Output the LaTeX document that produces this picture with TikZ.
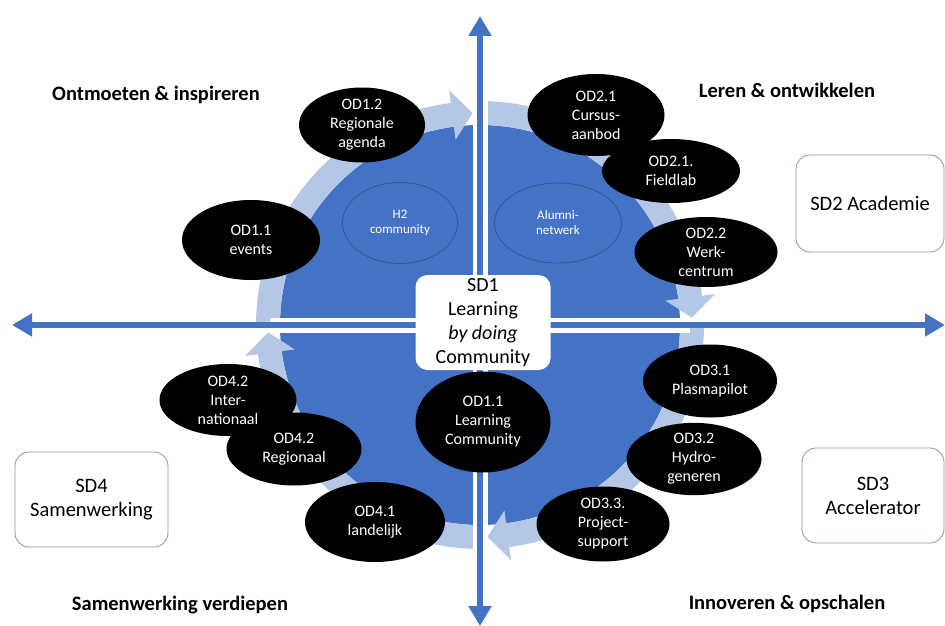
\documentclass[tikz,border=0pt]{standalone}
\usepackage{fontspec}
\setmainfont{Carlito}
\usetikzlibrary{shapes.geometric,arrows.meta}
\definecolor{mainblue}{HTML}{4472C4}
\definecolor{bandblue}{HTML}{B4C7E7}
\definecolor{boxline}{HTML}{8497B0}
\definecolor{ringline}{HTML}{2F528F}
\begin{document}
\begin{tikzpicture}[x=1pt,y=-1pt,
  od/.style={ellipse, fill=black, text=white, inner sep=0pt, align=center,
    font=\fontsize{16}{19}\selectfont},
  innerell/.style={ellipse, draw=ringline, line width=0.7pt, text=white, align=center,
    inner sep=0pt, font=\fontsize{13}{15}\selectfont},
  sdbox/.style={draw=boxline, line width=0.8pt, fill=white, rounded corners=14pt,
    align=center, inner sep=0pt, font=\fontsize{20.5}{24}\selectfont},
  centerbox/.style={fill=white, rounded corners=12pt, align=center, inner sep=0pt,
    font=\fontsize{20}{24}\selectfont},
  quadtitle/.style={font=\bfseries\fontsize{20.5}{24}\selectfont, inner sep=0pt},
  band/.style={fill=bandblue},
  axisborder/.style={draw=white, line width=15pt},
  axisline/.style={draw=mainblue, line width=6pt,
    {Triangle[length=20pt,width=22pt]}-{Triangle[length=20pt,width=22pt]}}
]
\useasboundingbox (0,0) rectangle (945,626);
\fill[white] (0,0) rectangle (945,626);

% central disc
\coordinate (C) at (480,325);
\fill[mainblue] (C) circle[radius=200];

% circular light-blue arrows (clockwise, one per quadrant)
\begin{scope}[shift={(480,325)}]
\foreach \s in {90,180,270,360} {
  \fill[band] (\s:224) arc[start angle=\s, end angle={\s+82.5}, radius=224]
    -- ({\s+82.5}:237) -- ({\s+88}:212) -- ({\s+82.5}:187)
    -- ({\s+82.5}:200) arc[start angle={\s+82.5}, end angle=\s, radius=200] -- cycle;
}
\end{scope}

% inner thin ellipses
\node[innerell, minimum width=115pt, minimum height=81pt] (h2) at (400,223) {H2\\community};
\node[innerell, minimum width=127pt, minimum height=80pt] (alumni) at (558,223) {Alumni-\\netwerk};

% axes
\coordinate (axL) at (12,325);
\coordinate (axR) at (945,325);
\coordinate (axT) at (480,16);
\coordinate (axB) at (480,626);
\draw[axisborder] (C) ++(-210,0) -- ++(420,0);
\draw[axisborder] (C) ++(0,-232) -- ++(0,464);
\draw[axisline] (axL) -- (axR);
\draw[axisline] (axT) -- (axB);

% center box
\node[centerbox, minimum width=135pt, minimum height=95pt] (sd1) at (483,322.5)
  {SD1\\Learning\\\textit{by doing}\\Community};

% outer SD boxes
\node[sdbox, minimum width=148pt, minimum height=97pt] (sd2) at (870,203.5) {SD2 Academie};
\node[sdbox, minimum width=142pt, minimum height=95pt] (sd3) at (873,495.5) {SD3\\Accelerator};
\node[sdbox, minimum width=153pt, minimum height=95pt] (sd4) at (91.5,499.5) {SD4\\Samenwerking};

% black ellipses
\node[od, minimum width=126pt, minimum height=75pt] (od12) at (362,125) {OD1.2\\Regionale\\agenda};
\node[od, minimum width=138pt, minimum height=80pt] (od11e) at (251,240) {OD1.1\\events};
\node[od, minimum width=138pt, minimum height=64pt] (od21f) at (671,171) {OD2.1.\\Fieldlab};
\node[od, minimum width=137pt, minimum height=82pt] (od21) at (596,115) {OD2.1\\Cursus-\\aanbod};
\node[od, minimum width=143pt, minimum height=70pt] (od22) at (706,252) {OD2.2\\Werk-\\centrum};
\node[od, minimum width=135pt, minimum height=101pt] (od11lc) at (483,422) {OD1.1\\Learning\\Community};
\node[od, minimum width=134pt, minimum height=73pt] (od31) at (710,381) {OD3.1\\Plasmapilot};
\node[od, minimum width=135pt, minimum height=72pt] (od32) at (694,459) {OD3.2\\Hydro-\\generen};
\node[od, minimum width=133pt, minimum height=75pt] (od33) at (603,524) {OD3.3.\\Project-\\support};
\node[od, minimum width=135pt, minimum height=73pt] (od42r) at (294,449) {OD4.2\\Regionaal};
\node[od, minimum width=137pt, minimum height=72pt] (od42i) at (228,400) {OD4.2\\Inter-\\nationaal};
\node[od, minimum width=140pt, minimum height=80pt] (od41) at (375,522) {OD4.1\\landelijk};

% quadrant titles
\node[quadtitle] (t1) at (156,95) {Ontmoeten \& inspireren};
\node[quadtitle] (t2) at (787,90) {Leren \& ontwikkelen};
\node[quadtitle] (t3) at (180,605) {Samenwerking verdiepen};
\node[quadtitle] (t4) at (787,604) {Innoveren \& opschalen};
\end{tikzpicture}
\end{document}
